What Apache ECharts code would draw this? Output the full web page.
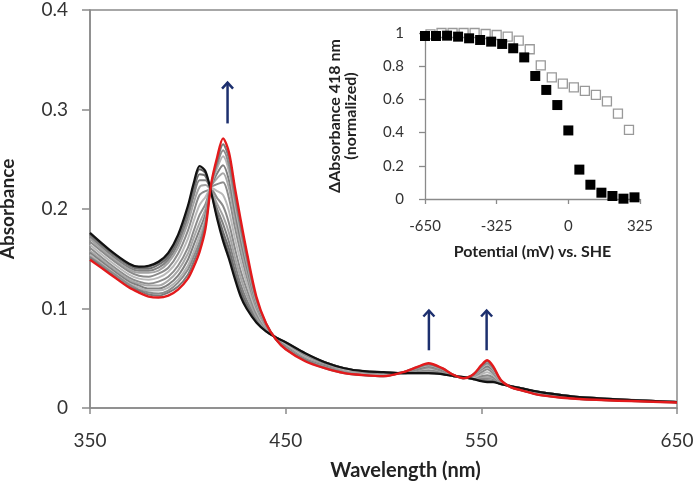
<!DOCTYPE html>
<html>
<head>
<meta charset="utf-8">
<script src="https://cdn.jsdelivr.net/npm/echarts@6.0.0/dist/echarts.min.js"></script>
<style>
  html, body { margin: 0; padding: 0; background: #fff; }
  #chart { width: 693px; height: 485px; }
</style>
</head>
<body>
<div id="chart"></div>
<script>
// wavelengths (nm) shared by every spectrum
var wl = [350,360,370,375,380,385,390,395,400,403,406,409,412,415,418,421,424,427,430,435,440,445,450,460,470,480,490,500,510,517,523,530,536,541,546,550,553,556,560,565,570,580,600,650];

// oxidised (black) and reduced (red) spectra
var black = [.176,.159,.145,.142,.143,.147,.156,.174,.203,.226,.243,.238,.216,.190,.168,.150,.130,.112,.100,.086,.077,.071,.066,.055,.046,.040,.037,.036,.035,.035,.035,.034,.032,.031,.029,.027,.026,.026,.024,.022,.020,.016,.011,.006];
var red = [.149,.135,.121,.116,.112,.111,.113,.119,.130,.142,.157,.180,.226,.252,.271,.257,.222,.189,.158,.112,.085,.069,.059,.047,.040,.035,.033,.032,.036,.041,.045,.040,.033,.030,.034,.043,.048,.042,.028,.021,.018,.013,.009,.0055];

// intermediate spectra of the titration
var g1 = [.175,.158,.144,.141,.142,.146,.154,.172,.200,.223,.240,.236,.216,.192,.172,.154,.134,.115,.102,.087,.077,.071,.066,.055,.046,.040,.037,.036,.035,.035,.035,.034,.032,.031,.029,.028,.027,.027,.024,.022,.020,.016,.011,.006];
var g2 = [.174,.157,.143,.140,.140,.144,.152,.169,.196,.218,.235,.233,.217,.196,.177,.160,.138,.119,.105,.088,.078,.071,.065,.054,.046,.040,.037,.036,.035,.036,.036,.035,.032,.031,.029,.028,.028,.027,.024,.022,.020,.016,.011,.006];
var g3 = [.172,.155,.141,.138,.138,.141,.149,.165,.191,.213,.229,.229,.218,.200,.185,.167,.145,.124,.109,.090,.078,.071,.065,.054,.045,.039,.036,.035,.035,.036,.037,.035,.032,.031,.030,.030,.030,.029,.025,.022,.020,.016,.011,.006];
var g4 = [.170,.153,.139,.136,.136,.138,.146,.161,.186,.206,.222,.224,.218,.205,.193,.176,.152,.131,.114,.092,.079,.071,.064,.053,.045,.039,.036,.035,.035,.036,.037,.035,.032,.031,.030,.031,.031,.030,.025,.022,.020,.015,.011,.006];
var g5 = [.167,.151,.137,.133,.132,.135,.141,.155,.178,.197,.214,.218,.219,.211,.203,.186,.161,.138,.120,.095,.080,.070,.064,.052,.044,.038,.036,.035,.035,.037,.038,.036,.032,.031,.031,.032,.033,.031,.025,.022,.019,.015,.010,.006];
var g6 = [.164,.148,.134,.130,.129,.131,.137,.149,.170,.188,.204,.212,.221,.218,.214,.198,.171,.147,.126,.098,.081,.070,.063,.051,.043,.038,.035,.034,.035,.038,.040,.037,.032,.031,.031,.034,.036,.033,.026,.022,.019,.015,.010,.006];
var g7 = [.161,.145,.131,.127,.125,.127,.132,.143,.161,.178,.194,.205,.222,.225,.227,.211,.182,.156,.133,.101,.082,.070,.062,.050,.043,.037,.035,.034,.036,.038,.041,.037,.033,.030,.032,.036,.039,.035,.026,.021,.019,.014,.010,.006];
var g8 = [.158,.143,.129,.125,.123,.123,.128,.138,.155,.171,.186,.200,.223,.231,.236,.221,.191,.163,.138,.103,.082,.070,.061,.050,.042,.037,.034,.033,.036,.039,.042,.038,.033,.030,.032,.038,.041,.037,.027,.021,.019,.014,.010,.006];
var g9 = [.156,.141,.127,.123,.120,.120,.124,.133,.149,.164,.179,.195,.223,.236,.244,.229,.198,.169,.143,.105,.083,.070,.061,.049,.042,.036,.034,.033,.036,.039,.042,.038,.033,.030,.033,.039,.042,.038,.027,.021,.019,.014,.010,.006];
var g10 = [.154,.139,.125,.121,.118,.118,.121,.129,.143,.157,.173,.190,.224,.241,.253,.238,.205,.175,.148,.107,.084,.069,.060,.048,.041,.036,.034,.033,.036,.040,.043,.039,.033,.030,.033,.040,.044,.039,.027,.021,.018,.014,.009,.006];
var g11 = [.152,.138,.124,.119,.116,.115,.118,.126,.139,.152,.167,.187,.225,.245,.259,.244,.211,.180,.151,.109,.084,.069,.060,.048,.041,.036,.033,.032,.036,.040,.044,.039,.033,.030,.033,.041,.045,.040,.028,.021,.018,.013,.009,.006];
var g12 = [.151,.136,.122,.118,.114,.113,.116,.122,.134,.147,.162,.184,.225,.248,.265,.251,.217,.184,.155,.110,.085,.069,.059,.048,.040,.035,.033,.032,.036,.041,.044,.040,.033,.030,.034,.042,.047,.041,.028,.021,.018,.013,.009,.0055];
var greys = [g1, g2, g3, g4, g5, g6, g7, g8, g9, g10, g11, g12];
var greyColors = ['#5e5e5e','#6e6e6e','#808080','#a3a3a3','#8a8a8a','#b9b9b9','#8c8c8c','#a8a8a8','#7f7f7f','#b3b3b3','#8c8c8c','#7a7a7a'];

// arrows: [wavelength, from, to]
var arrows = [[420.3, 0.286, 0.328], [523.2, 0.058, 0.099], [552.7, 0.058, 0.099]];

// inset: normalized delta absorbance at 418 nm vs potential
var potFilled = [-650,-600,-550,-500,-450,-400,-350,-300,-250,-200,-150,-100,-50,0,50,100,150,200,250,300];
var normFilled = [0.982,0.982,0.984,0.978,0.968,0.958,0.948,0.934,0.908,0.853,0.741,0.657,0.566,0.413,0.177,0.086,0.038,0.018,0.002,0.010];
var potOpen = [-625,-575,-525,-475,-425,-375,-325,-275,-225,-175,-125,-75,-25,25,75,125,175,225,275];
var normOpen = [0.992,1.0,1.0,1.0,1.0,0.994,0.988,0.978,0.954,0.902,0.805,0.733,0.695,0.673,0.651,0.627,0.588,0.514,0.416];

var font = 'Lato, "Open Sans", sans-serif';
var axisGrey = '#8a8a8a';
var labelColor = '#333';

function pairs(xs, ys) {
  return xs.map(function (x, i) { return [x, ys[i]]; });
}

function spectrum(data, color, width, z) {
  return {
    type: 'line',
    xAxisIndex: 0,
    yAxisIndex: 0,
    data: pairs(wl, data),
    symbol: 'none',
    smooth: 0.3,
    lineStyle: { color: color, width: width, join: 'round' },
    z: z,
    silent: true
  };
}

var series = [];
greys.forEach(function (g, i) {
  series.push(spectrum(g, greyColors[i], 2, 2));
});
series.push(spectrum(black, '#111', 2.2, 3));
series.push(spectrum(red, '#e31a1c', 2.4, 4));

series.push({
  type: 'custom',
  xAxisIndex: 0,
  yAxisIndex: 0,
  data: arrows,
  encode: { x: 0, y: [1, 2] },
  clip: false,
  z: 5,
  renderItem: function (params, api) {
    var x = api.value(0);
    var p0 = api.coord([x, api.value(1)]);
    var p1 = api.coord([x, api.value(2)]);
    var c = '#1c2f6e';
    return {
      type: 'group',
      children: [
        { type: 'line', shape: { x1: p0[0], y1: p0[1], x2: p1[0], y2: p1[1] + 1 }, style: { stroke: c, lineWidth: 2.5 } },
        { type: 'polyline', shape: { points: [[p1[0] - 5.5, p1[1] + 7], [p1[0], p1[1] + 1], [p1[0] + 5.5, p1[1] + 7]] }, style: { stroke: c, lineWidth: 2.5, fill: null } }
      ]
    };
  }
});

series.push({
  type: 'scatter',
  xAxisIndex: 1,
  yAxisIndex: 1,
  data: pairs(potOpen, normOpen),
  symbol: 'rect',
  symbolSize: 9,
  itemStyle: { color: '#fff', borderColor: '#808080', borderWidth: 1.3 },
  clip: false,
  z: 6
});
series.push({
  type: 'scatter',
  xAxisIndex: 1,
  yAxisIndex: 1,
  data: pairs(potFilled, normFilled),
  symbol: 'rect',
  symbolSize: 10,
  itemStyle: { color: '#000', opacity: 1 },
  clip: false,
  z: 7
});

var myChart = echarts.init(document.getElementById('chart'));
var option = {
  backgroundColor: '#fff',
  animation: false,
  grid: [
    { left: 90, top: 10, right: 16, bottom: 77, outerBoundsMode: 'none', containLabel: false, show: true, borderColor: axisGrey, borderWidth: 1.5, backgroundColor: 'transparent' },
    { left: 425, top: 33, right: 53, bottom: 286, outerBoundsMode: 'none', containLabel: false }
  ],
  xAxis: [
    {
      type: 'value', gridIndex: 0, min: 350, max: 650, interval: 100,
      name: 'Wavelength (nm)', nameLocation: 'middle', nameGap: 53,
      nameTextStyle: { fontFamily: font, fontSize: 20, fontWeight: 'bold', color: '#222', padding: [0, 0, 0, 44] },
      axisLine: { show: true, lineStyle: { color: axisGrey, width: 1.5 } },
      axisTick: { show: true, length: 6, lineStyle: { color: axisGrey, width: 1.5 } },
      axisLabel: { fontFamily: font, fontSize: 19, color: labelColor, margin: 23 },
      splitLine: { show: false }
    },
    {
      type: 'value', gridIndex: 1, min: -650, max: 325, interval: 325,
      name: 'Potential (mV) vs. SHE', nameLocation: 'middle', nameGap: 45,
      nameTextStyle: { fontFamily: font, fontSize: 16, fontWeight: 'bold', color: '#222' },
      axisLine: { show: true, onZero: false, lineStyle: { color: axisGrey, width: 1.3 } },
      axisTick: { show: true, length: 5, lineStyle: { color: axisGrey, width: 1.3 } },
      axisLabel: { fontFamily: font, fontSize: 15, color: labelColor, margin: 20 },
      splitLine: { show: false }
    }
  ],
  yAxis: [
    {
      type: 'value', gridIndex: 0, min: 0, max: 0.4, interval: 0.1,
      name: 'Absorbance', nameLocation: 'middle', nameGap: 73, nameRotate: 90,
      nameTextStyle: { fontFamily: font, fontSize: 19, fontWeight: 'bold', color: '#222' },
      axisLine: { show: true, onZero: false, lineStyle: { color: axisGrey, width: 1.5 } },
      axisTick: { show: true, length: 8, lineStyle: { color: axisGrey, width: 1.5 } },
      axisLabel: { fontFamily: font, fontSize: 19, color: labelColor, margin: 22 },
      splitLine: { show: false }
    },
    {
      type: 'value', gridIndex: 1, min: 0, max: 1, interval: 0.2,
      name: 'ΔAbsorbance 418 nm\n(normalized)', nameLocation: 'middle', nameGap: 66, nameRotate: 90,
      nameTextStyle: { fontFamily: font, fontSize: 16, fontWeight: 'bold', color: '#222', lineHeight: 16 },
      axisLine: { show: true, onZero: false, lineStyle: { color: axisGrey, width: 1.3 } },
      axisTick: { show: true, length: 6, lineStyle: { color: axisGrey, width: 1.3 } },
      axisLabel: { fontFamily: font, fontSize: 15, color: labelColor, margin: 21 },
      splitLine: { show: false }
    }
  ],
  series: series
};
myChart.setOption(option);
</script>
</body>
</html>
